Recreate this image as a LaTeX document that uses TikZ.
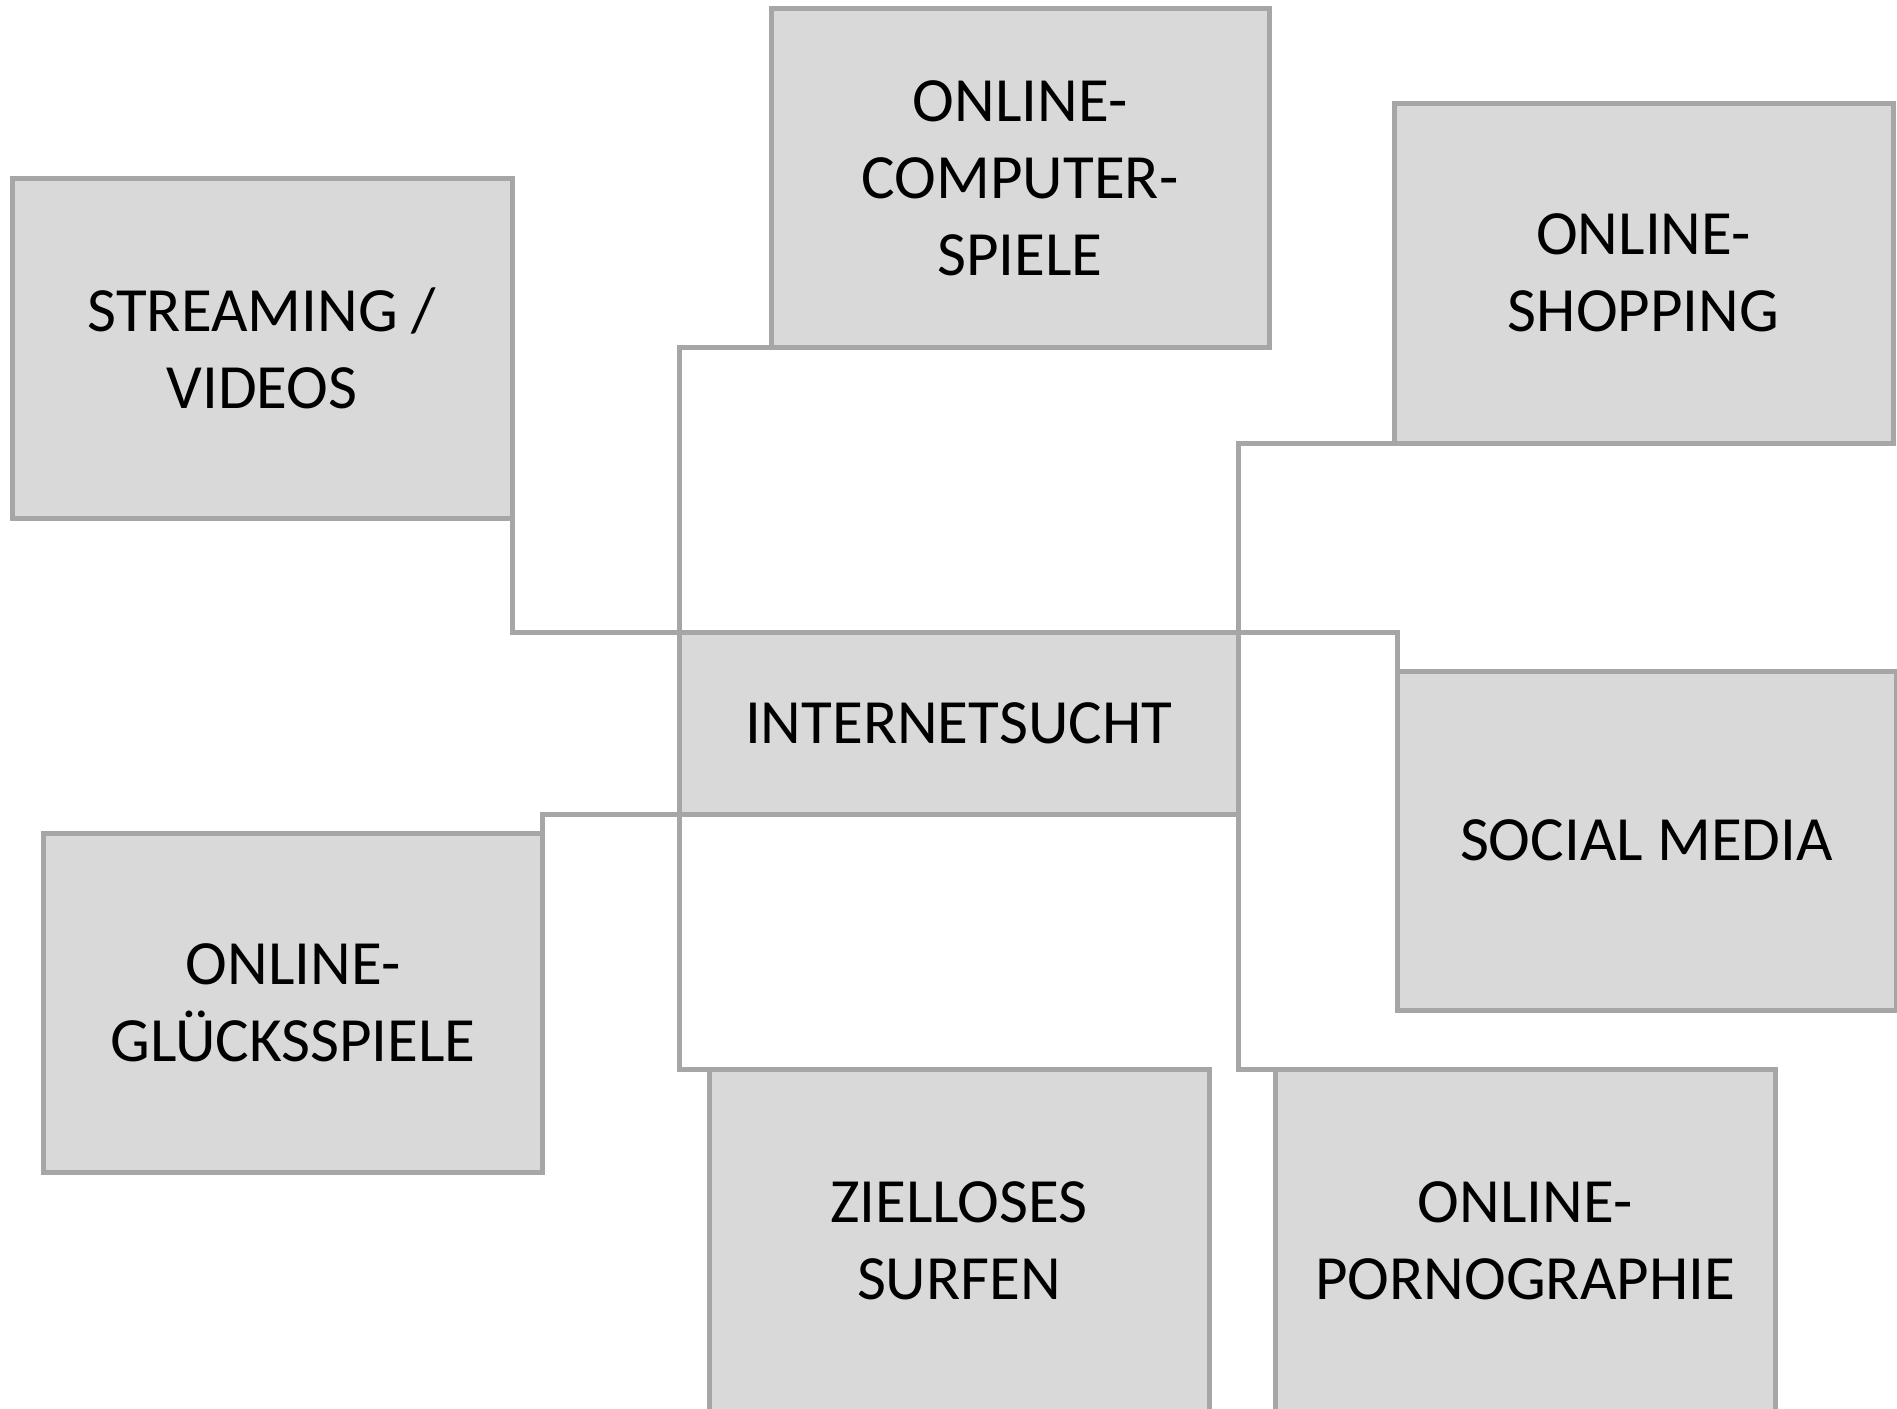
\documentclass[tikz,border=0pt]{standalone}
\usepackage{fontspec}
\setmainfont{Carlito}
\definecolor{boxline}{HTML}{A6A6A6}
\definecolor{boxfill}{HTML}{D9D9D9}
\begin{document}
\begin{tikzpicture}[x=1pt,y=-1pt,
  box/.style={draw=boxline, fill=boxfill, line width=5pt, inner sep=0pt, outer sep=0pt,
    align=center, font=\fontsize{63}{77}\selectfont, text=black},
  conn/.style={draw=boxline, line width=5pt}]
\clip (0,0) rectangle (1897,1408);
\fill[white] (0,0) rectangle (1897,1408);
% nodes
\node[box, minimum width=500pt, minimum height=340pt] (str) at (262,348) {STREAMING /\\VIDEOS};
\node[box, minimum width=498pt, minimum height=339pt] (comp) at (1020,178) {ONLINE-\\COMPUTER-\\SPIELE};
\node[box, minimum width=499pt, minimum height=340pt] (shop) at (1643.5,273) {ONLINE-\\SHOPPING};
\node[box, minimum width=559pt, minimum height=182pt] (int) at (958.5,723) {INTERNETSUCHT};
\node[box, minimum width=499pt, minimum height=339pt] (soc) at (1646.5,840.5) {SOCIAL MEDIA};
\node[box, minimum width=499pt, minimum height=339pt] (gl) at (293,1003) {ONLINE-\\GLÜCKSSPIELE};
\node[box, minimum width=500pt, minimum height=343pt] (surf) at (959,1240.5) {ZIELLOSES\\SURFEN};
\node[box, minimum width=500pt, minimum height=343pt] (porn) at (1525,1240.5) {ONLINE-\\PORNOGRAPHIE};
% connectors
\draw[conn] (str.south east) |- (int.north west);
\draw[conn] (int.north west) |- (comp.south west);
\draw[conn] (int.north east) |- (shop.south west);
\draw[conn] (int.north east) -| (soc.north west);
\draw[conn] (int.south west) -| (gl.north east);
\draw[conn] (int.south west) |- (surf.north west);
\draw[conn] (int.south east) |- (porn.north west);
\end{tikzpicture}
\end{document}
